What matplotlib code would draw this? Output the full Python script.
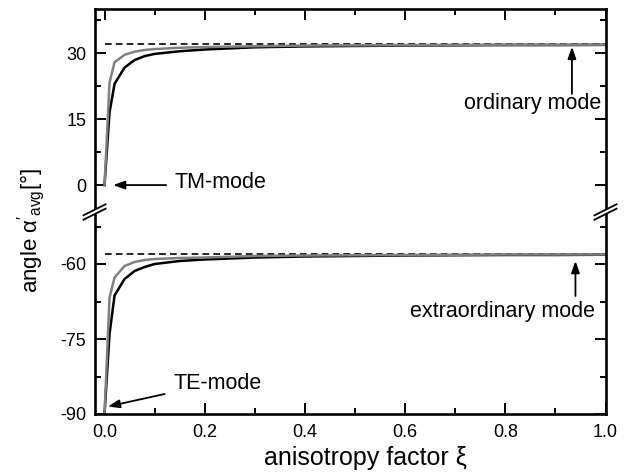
import matplotlib.pyplot as plt
from matplotlib.ticker import MultipleLocator
from matplotlib.lines import Line2D
from matplotlib.patches import Polygon

plt.rcParams['font.family'] = ['Liberation Sans', 'DejaVu Sans']
plt.rcParams['mathtext.default'] = 'regular'
plt.rcParams['axes.unicode_minus'] = False

# anisotropy factor
xi = [0.0, 0.01, 0.02, 0.04, 0.06, 0.08, 0.1, 0.15, 0.2, 0.3, 0.4, 0.5, 0.6, 0.7, 0.8, 0.9, 1.0]

# TM branch -> ordinary mode
tm_black = [0.0, 16.5, 23.0, 26.7, 28.4, 29.3, 29.8, 30.4, 30.8, 31.3, 31.5, 31.6, 31.7, 31.75, 31.8, 31.8, 31.85]
tm_gray = [0.0, 23.3, 27.9, 29.6, 30.3, 30.7, 30.9, 31.2, 31.35, 31.55, 31.7, 31.75, 31.8, 31.85, 31.9, 31.9, 31.9]

# TE branch -> extraordinary mode
te_black = [-90.0, -74.0, -66.3, -63.0, -61.4, -60.6, -60.0, -59.4, -59.1, -58.7, -58.5, -58.4, -58.3, -58.25, -58.2, -58.2, -58.15]
te_gray = [-90.0, -66.7, -62.7, -60.4, -59.6, -59.2, -59.0, -58.8, -58.7, -58.4, -58.3, -58.25, -58.2, -58.15, -58.1, -58.1, -58.1]

ordinary_limit = 32.0
extra_limit = -58.0

W, H = 641, 472
fig = plt.figure(figsize=(W / 100, H / 100), dpi=100)
gs = fig.add_gridspec(2, 1, left=94.5 / W, right=605.5 / W,
                      top=1 - 9 / H, bottom=1 - 414 / H, hspace=0)
ax_top = fig.add_subplot(gs[0])
ax_bot = fig.add_subplot(gs[1], sharex=ax_top)

gray = '#808080'
for ax, black, grey, lim in [(ax_top, tm_black, tm_gray, ordinary_limit),
                             (ax_bot, te_black, te_gray, extra_limit)]:
    ax.plot([0, 1], [lim, lim], color='k', lw=1.2, dashes=(4, 2.5))
    ax.plot(xi, black, color='k', lw=1.8)
    ax.plot(xi, grey, color=gray, lw=1.8)
    for s in ax.spines.values():
        s.set_linewidth(1.9)
    ax.tick_params(which='both', direction='in', left=True, right=True,
                   width=1.4, labelsize=13, pad=6)
    ax.tick_params(which='major', length=8)
    ax.tick_params(which='minor', length=4)

ax_top.set_xlim(-0.02, 1.0)
ax_top.set_ylim(-6, 40)
ax_bot.set_ylim(-90, -49.5)

ax_top.spines['bottom'].set_visible(False)
ax_bot.spines['top'].set_visible(False)
ax_top.tick_params(which='both', top=True, bottom=False, labelbottom=False)
ax_bot.tick_params(which='both', top=False, bottom=True)
ax_bot.tick_params(axis='x', pad=7)

ax_bot.xaxis.set_major_locator(MultipleLocator(0.2))
ax_bot.xaxis.set_minor_locator(MultipleLocator(0.1))
ax_top.yaxis.set_major_locator(MultipleLocator(15))
ax_top.yaxis.set_minor_locator(MultipleLocator(7.5))
ax_bot.yaxis.set_major_locator(MultipleLocator(15))
ax_bot.yaxis.set_minor_locator(MultipleLocator(7.5))

arrow = dict(arrowstyle='-|>,head_length=0.7,head_width=0.25', color='k',
             lw=1.3, shrinkA=0, shrinkB=0)
fs = 15.5

ax_top.annotate('', xy=(0.017, 0), xytext=(0.123, 0), arrowprops=arrow)
ax_top.text(0.14, -0.75, 'TM-mode', fontsize=fs, ha='left', va='baseline')

ax_top.annotate('', xy=(0.933, 31.4), xytext=(0.933, 20.7), arrowprops=arrow)
ax_top.text(0.855, 17.3, 'ordinary mode', fontsize=fs, ha='center', va='baseline')

ax_bot.annotate('', xy=(0.0067, -88.5), xytext=(0.12, -86.0), arrowprops=arrow)
ax_bot.text(0.137, -85.0, 'TE-mode', fontsize=fs, ha='left', va='baseline')

ax_bot.annotate('', xy=(0.94, -59.4), xytext=(0.94, -66.4), arrowprops=arrow)
ax_bot.text(0.794, -70.6, 'extraordinary mode', fontsize=fs, ha='center', va='baseline')

# axis break marks on both vertical spines
def fx(px):
    return px / W

def fy(py):
    return 1 - py / H

for x0 in (94.5, 605.5):
    y0 = 212
    dx, dy, gap = 11, 5.5, 2.2
    poly = Polygon([(fx(x0 - dx), fy(y0 + dy + gap)), (fx(x0 + dx), fy(y0 - dy + gap)),
                    (fx(x0 + dx), fy(y0 - dy - gap)), (fx(x0 - dx), fy(y0 + dy - gap))],
                   closed=True, facecolor='white', edgecolor='none',
                   transform=fig.transFigure, zorder=10)
    fig.patches.append(poly)
    for off in (gap, -gap):
        fig.lines.append(Line2D([fx(x0 - dx), fx(x0 + dx)],
                                [fy(y0 + dy + off), fy(y0 - dy + off)],
                                color='k', lw=1.3, transform=fig.transFigure, zorder=11))

fig.text(365 / W, 1 - 458 / H, 'anisotropy factor ξ', fontsize=18,
         ha='center', va='center')
fig.text(31.5 / W, 1 - 231 / H, r"angle $α'_{avg}$[°]", fontsize=16,
         rotation=90, ha='center', va='center')

fig.savefig('out.png', dpi=100)
